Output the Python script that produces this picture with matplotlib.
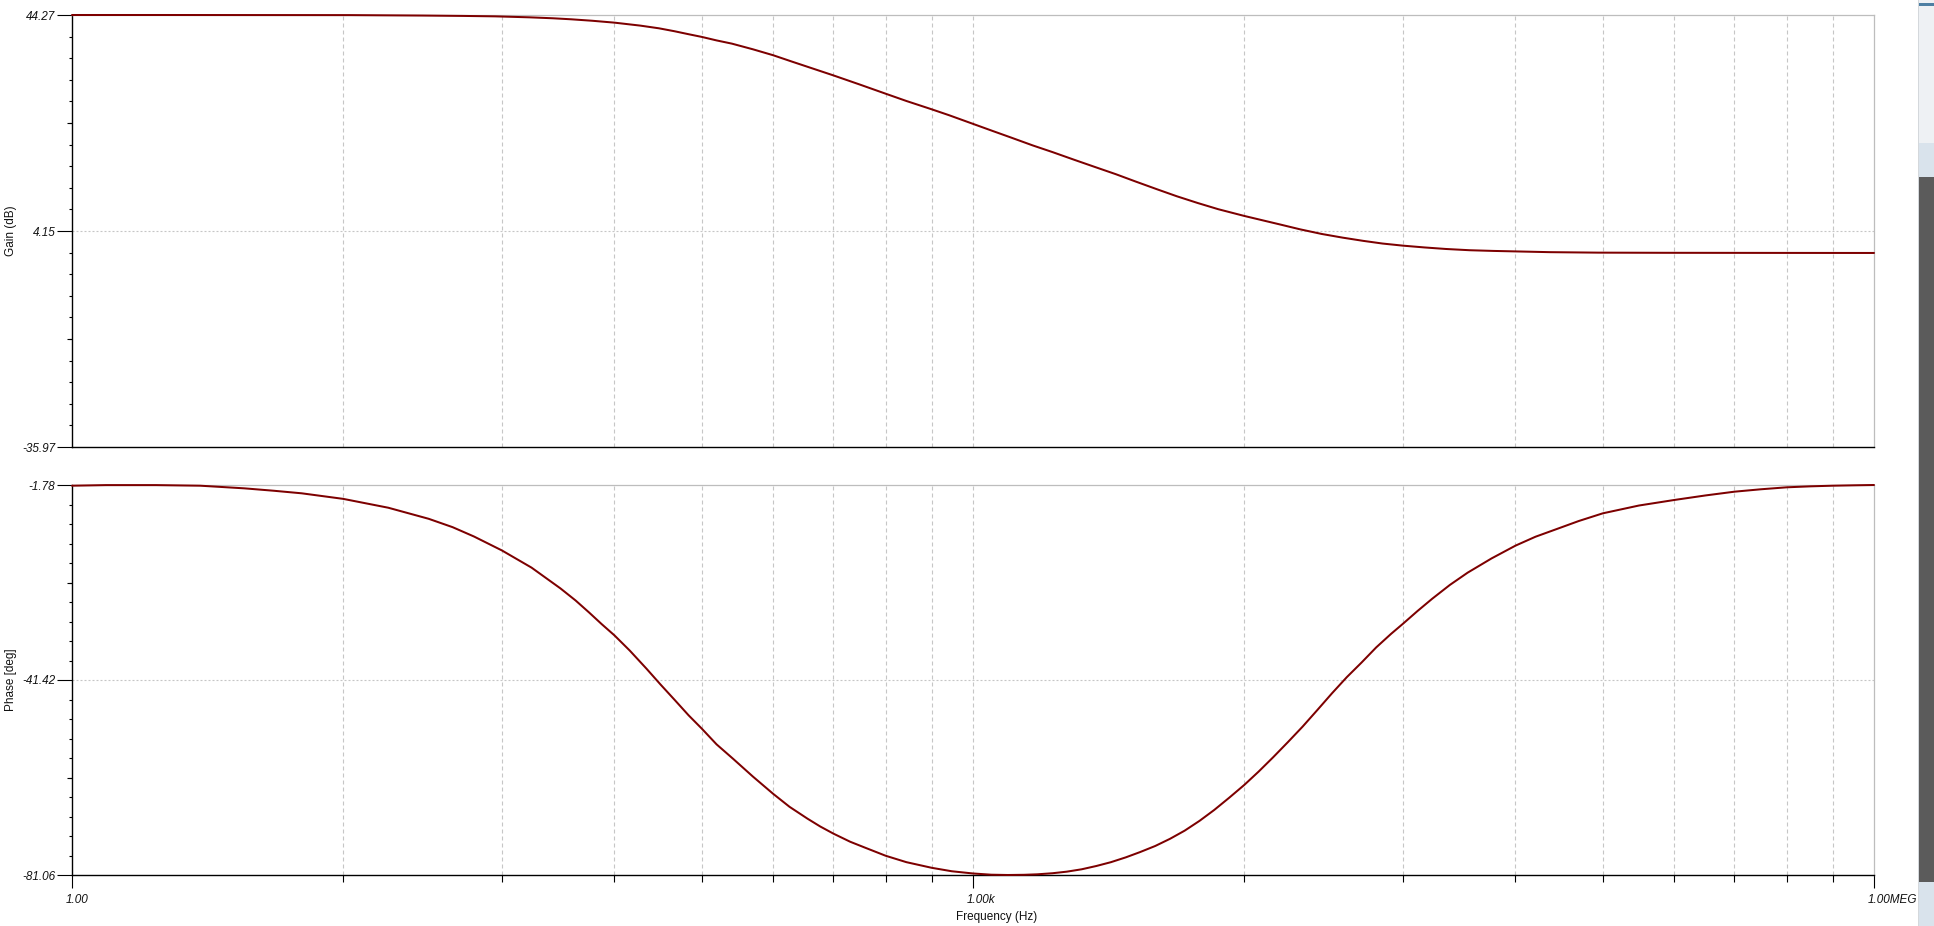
import numpy as np
import matplotlib
matplotlib.use('Agg')
import matplotlib.pyplot as plt
import matplotlib.lines as mlines
import matplotlib.transforms as mtrans
from matplotlib.patches import Rectangle

plt.rcParams['font.family'] = ['Liberation Sans', 'DejaVu Sans']

# ---------------- data ----------------
gain_freq = [1, 2, 4, 8.41, 14.7, 20, 25.6, 33.3, 40, 46, 54, 64, 78, 90, 101.5,
             113, 125, 140, 157.5, 185, 216, 250, 283, 343, 420, 512, 600, 729,
             833, 1000, 1160, 1340, 1580, 1841, 2180, 2529, 2990, 3475, 4100,
             4772, 5600, 6554, 8000, 10550, 12300, 14490, 17000, 19910, 23100,
             27000, 31800, 37560, 45000, 54000, 64000, 83170, 120800, 200000,
             500000, 1000000]
gain_db = [44.27, 44.27, 44.26, 44.25, 44.17, 44.10, 44.02, 43.84, 43.66, 43.47,
           43.20, 42.85, 42.30, 41.80, 41.25, 40.70, 40.20, 39.55, 38.95, 37.90,
           36.80, 35.60, 34.60, 33.05, 31.35, 29.65, 28.30, 26.75, 25.65, 24.05,
           22.75, 21.50, 20.05, 18.80, 17.35, 16.10, 14.70, 13.35, 11.90, 10.60,
           9.35, 8.20, 6.95, 5.35, 4.45, 3.60, 2.92, 2.32, 1.82, 1.43, 1.10, 0.81,
           0.58, 0.45, 0.36, 0.22, 0.13, 0.10, 0.08, 0.07]

phase_freq = [1, 1.3, 1.9, 2.67, 3.75, 4.7, 5.82, 8, 11.3, 15.4, 18.5, 21.8, 27,
              33.9, 42.3, 47.5, 52.7, 58, 64, 72, 81.9, 91, 102, 113, 125, 140,
              159, 185, 216, 245, 281, 310, 343, 390, 437, 512, 600, 729, 850,
              1000, 1150, 1306, 1480, 1638, 1840, 2054, 2300, 2574, 2880, 3228,
              3600, 4044, 4530, 5069, 5680, 6356, 7130, 8000, 8930, 9984, 11180,
              12515, 14000, 15680, 17560, 19660, 22000, 24650, 27000, 30200,
              33810, 38700, 44360, 53300, 64000, 74600, 87290, 104000, 125000,
              165000, 216000, 275000, 343000, 420000, 512000, 615000, 729000,
              860000, 1000000]
phase_deg = [-1.92, -1.80, -1.80, -1.92, -2.46, -2.95, -3.47, -4.60, -6.40, -8.65,
             -10.35, -12.25, -15.08, -18.58, -22.80, -25.25, -27.70, -30.05,
             -32.35, -35.45, -39.15, -42.30, -45.60, -48.60, -51.30, -54.50,
             -57.45, -61.05, -64.55, -67.20, -69.60, -71.20, -72.65, -74.30,
             -75.50, -77.15, -78.45, -79.60, -80.30, -80.75, -81.00, -81.06,
             -81.02, -80.92, -80.70, -80.38, -79.90, -79.23, -78.45, -77.47,
             -76.40, -75.16, -73.70, -72.04, -70.05, -67.84, -65.35, -62.76,
             -60.05, -57.13, -54.05, -50.90, -47.55, -44.12, -40.85, -37.88,
             -34.80, -32.05, -30.00, -27.40, -24.90, -22.10, -19.60, -16.70,
             -14.11, -12.30, -10.79, -9.10, -7.54, -5.95, -4.83, -3.90, -3.14,
             -2.65, -2.25, -2.05, -1.92, -1.84, -1.78]

gain_ylim = (-35.97, 44.27)
gain_yticklabels = ['-35.97', '4.15', '44.27']
phase_ylim = (-81.06, -1.78)
phase_yticklabels = ['-81.06', '-41.42', '-1.78']
xtick_vals = [1, 1e3, 1e6]
xtick_labels = ['1.00', '1.00k', '1.00MEG']

# ---------------- layout ----------------
W, H = 1934, 926
fig = plt.figure(figsize=(W / 100, H / 100), dpi=100)
fig.patch.set_facecolor('white')


def px_axes(l, t, r, b):
    return fig.add_axes([l / W, 1 - b / H, (r - l) / W, (b - t) / H])


ax1 = px_axes(72, 15, 1874, 447)
ax2 = px_axes(72, 485, 1874, 875)

# grid positions: TINA style, log subdivisions of each 3-decade segment
grid_x = [k ** 3 * 10 ** (3 * j) for j in (0, 1) for k in range(2, 10)]

LINE_COLOR = '#7d0000'
GRID_COLOR = '#c6c6c6'
TXT = '#111111'
FS = 8.5


def style(ax, ylim, ylabels):
    ylo, yhi = ylim
    ax.set_xscale('log')
    ax.set_xlim(xtick_vals[0], xtick_vals[-1])
    ax.set_ylim(ylo, yhi)
    for s in ['top', 'right']:
        ax.spines[s].set_color('#bdbdbd')
        ax.spines[s].set_linewidth(0.9)
    for s in ['left', 'bottom']:
        ax.spines[s].set_color('black')
        ax.spines[s].set_linewidth(1.0)
    ymid = (ylo + yhi) / 2
    ax.set_yticks([ylo, ymid, yhi])
    ax.set_yticklabels(ylabels, fontstyle='italic', fontsize=FS, color=TXT)
    step = (yhi - ylo) / 20
    ax.set_yticks([ylo + i * step for i in range(1, 20) if i != 10], minor=True)
    ax.tick_params(axis='y', which='major', direction='out', length=10.5, width=0.8, pad=1.5)
    ax.tick_params(axis='y', which='minor', direction='out', length=2.2, width=0.8)
    ax.plot([0, 0], [ylo + 5 * step, ylo + 15 * step], transform=ax.get_yaxis_transform(),
            marker=mlines.TICKLEFT, ms=3.6, mew=0.8, ls='none', color='black', clip_on=False)
    # grid
    ax.axhline(ymid, color=GRID_COLOR, lw=0.8, ls=(0, (1.8, 1.8)), zorder=0)
    for gx in grid_x + [1e3]:
        ax.axvline(gx, color=GRID_COLOR, lw=0.8, ls=(0, (3.6, 2.7)), zorder=0)


style(ax1, gain_ylim, gain_yticklabels)
style(ax2, phase_ylim, phase_yticklabels)

ax1.tick_params(axis='x', which='both', length=0, labelbottom=False)

ax2.set_xticks(xtick_vals)
ax2.set_xticks(grid_x, minor=True)
ax2.tick_params(axis='x', which='both', labelbottom=False)
ax2.tick_params(axis='x', which='major', direction='out', length=9.4, width=0.8)
ax2.tick_params(axis='x', which='minor', direction='out', length=4.7, width=0.8)
# x tick labels: left-aligned, starting a little left of each tick
lab_tr = ax2.get_xaxis_transform() + mtrans.ScaledTranslation(-6 / 100, -19 / 100,
                                                              fig.dpi_scale_trans)
for xv, lab in zip(xtick_vals, xtick_labels):
    ax2.text(xv, 0, lab, transform=lab_tr, ha='left', va='top', fontstyle='italic',
             fontsize=FS, color=TXT, clip_on=False)

# curves
ax1.plot(gain_freq, gain_db, color=LINE_COLOR, lw=1.45, clip_on=False, zorder=3,
         solid_joinstyle='round', solid_capstyle='round')
ax2.plot(phase_freq, phase_deg, color=LINE_COLOR, lw=1.45, clip_on=False, zorder=3,
         solid_joinstyle='round', solid_capstyle='round')

# axis titles
fig.text(11 / W, 1 - 231 / H, 'Gain (dB)', rotation=90, ha='center', va='center',
         fontsize=FS, color=TXT)
fig.text(11 / W, 1 - 680 / H, 'Phase [deg]', rotation=90, ha='center', va='center',
         fontsize=FS, color=TXT)
fig.text(997 / W, 1 - 917 / H, 'Frequency (Hz)', ha='center', va='center',
         fontsize=FS, color=TXT)


# window chrome strip at right edge of the screenshot
def rect(x0, y0, x1, y1, color):
    fig.add_artist(Rectangle((x0 / W, 1 - y1 / H), (x1 - x0) / W, (y1 - y0) / H,
                             transform=fig.transFigure, color=color, lw=0, zorder=0))


rect(1918, 0, 1934, 926, '#eef1f4')
rect(1918, 0, 1919, 926, '#d4d8dc')
rect(1919, 3, 1934, 6, '#4d7fa3')
rect(1919, 143, 1934, 177, '#d9e3ec')
rect(1919, 177, 1934, 882, '#5b5b5b')
rect(1919, 882, 1934, 926, '#d9e3ec')

fig.savefig('out.png', dpi=100, facecolor='white')
